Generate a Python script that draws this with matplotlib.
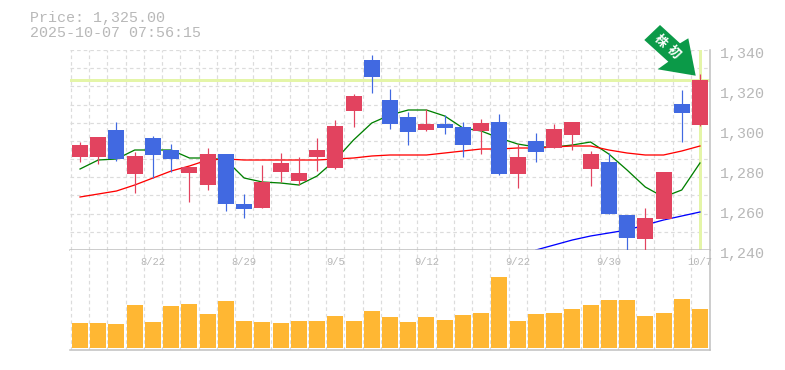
# plot.py
# -*- coding: utf-8 -*-

import matplotlib
matplotlib.use("Agg")
import matplotlib.pyplot as plt
import numpy as np
from matplotlib.patches import Polygon
from matplotlib.transforms import Affine2D, Bbox

# Candles, oldest first.
opens = [1286.5, 1286.5, 1300, 1278, 1296, 1290, 1278.5, 1272.5, 1288, 1263, 1261, 1279,
         1274.5, 1286.5, 1281, 1309.5, 1335, 1315, 1306.5, 1300, 1303, 1301.5, 1299.5, 1304,
         1278, 1294.5, 1291, 1297.5, 1280.5, 1284, 1257.5, 1245.5, 1255.5, 1313, 1302.5]
highs = [1294, 1296.5, 1304, 1289, 1297, 1293, 1281.5, 1291, 1288, 1268, 1282.5, 1288.5,
         1286.5, 1296, 1305, 1318, 1337.5, 1320.5, 1309, 1310.5, 1307.5, 1304, 1305.5, 1308,
         1293, 1298.5, 1303, 1304, 1289.5, 1288.5, 1257.5, 1261, 1279, 1320, 1328]
lows = [1284, 1283, 1284.5, 1268.5, 1276, 1279, 1264, 1270, 1259.5, 1256, 1261, 1274,
        1272.5, 1279.5, 1280.5, 1301.5, 1318.5, 1300.5, 1292.5, 1299.5, 1298, 1286.5, 1288, 1277.5,
        1271, 1284, 1291, 1290, 1272, 1258, 1240, 1240, 1255.5, 1294, 1302]
closes = [1292.5, 1296.5, 1285.5, 1287, 1287.5, 1285.5, 1281.5, 1288, 1263, 1260.5, 1274, 1283.5,
          1278.5, 1290, 1302, 1317, 1326.5, 1303, 1299, 1303, 1301, 1292.5, 1303.5, 1278,
          1286.5, 1289, 1300.5, 1304, 1288, 1258, 1246, 1256, 1279, 1308.5, 1325]

# Moving averages.
ma_short = [1280.5, 1285, 1285.5, 1290, 1290, 1290, 1286, 1286, 1285, 1276, 1274, 1273.5,
            1272.5, 1277, 1285, 1295, 1303.5, 1307.5, 1310, 1310, 1307, 1301, 1299.5, 1296,
            1293, 1291.5, 1291.5, 1292.5, 1294, 1288, 1280, 1271.5, 1266.5, 1270, 1283.5]
ma_mid = [1266.5, 1268, 1269.5, 1272.5, 1276, 1279.5, 1282, 1285, 1285.5, 1285, 1285, 1285,
          1285, 1285, 1285.5, 1286, 1287, 1287.5, 1287.5, 1287.5, 1288.5, 1289.5, 1290.5, 1290.5,
          1291, 1291, 1291.5, 1292, 1292, 1290, 1288.5, 1287.5, 1287.5, 1289.5, 1292]
ma_long = [1240, 1242.5, 1245, 1247, 1248.5, 1250, 1252.5, 1255, 1257, 1259]
ma_long_start = 25

volumes = [25, 25, 24, 43, 26, 42, 44, 34, 47, 27, 26, 25, 27, 27, 32, 27, 37, 31,
           26, 31, 28, 33, 35, 71, 27, 34, 35, 39, 43, 48, 48, 32, 35, 49, 39]

date_positions = [4, 9, 14, 19, 24, 29, 34]
date_labels = ["8/22", "8/29", "9/5", "9/12", "9/22", "9/30", "10/7"]
price_ticks = [1240, 1260, 1280, 1300, 1320, 1340]
last_price = 1325
title_lines = ["Price: 1,325.00", "2025-10-07 07:56:15"]
arrow_label = "株初"

W, H = 785, 370
UP = "#e2435f"
DOWN = "#4169e1"
TEXT = "#b8b8b8"
GRID = "#dcdcdc"
MARK = "#e4f5a8"
PX = 0.72

plt.rcParams["font.family"] = ["Liberation Mono", "DejaVu Sans Mono"]

fig = plt.figure(figsize=(W / 100, H / 100), dpi=100)
ax = fig.add_axes([70 / W, 1 - 250 / H, 640 / W, 200 / H])
vol = fig.add_axes([70 / W, 1 - 350 / H, 640 / W, 100 / H], sharex=ax)

xs = np.arange(len(closes))
bar_w = 16 / 18.24

for a in (ax, vol):
    a.set_xlim(-0.55, 34.55)
    a.set_xticks(xs - 0.5)
    a.tick_params(length=0, labelbottom=False, labelleft=False)
    a.grid(axis="x", color=GRID, lw=PX * 1.2, ls=(0, (3, 2.5)), zorder=0)
    a.set_axisbelow(True)
    a.spines["left"].set_visible(False)
    a.spines["top"].set_visible(False)
    a.spines["right"].set_color("#c0c0c0")
    a.spines["bottom"].set_color("#c0c0c0")
    a.spines["right"].set_linewidth(1.1)
    a.spines["bottom"].set_linewidth(1.1)

# Price panel.
ax.set_ylim(1240, 1340)
ax.set_yticks(np.linspace(1240, 1340, 12))
ax.grid(axis="y", color=GRID, lw=PX * 1.2, ls=(0, (3, 2.5)), zorder=0)

ax.axhline(last_price, color=MARK, lw=3 * PX, zorder=1)
ax.axvline(xs[-1], color=MARK, lw=3 * PX, zorder=1)

ax.plot(xs, ma_short, color="#008000", lw=PX * 1.3, zorder=2)
ax.plot(xs, ma_mid, color="#ff0000", lw=PX * 1.3, zorder=2)
ax.plot(xs[ma_long_start:], ma_long, color="#0000ff", lw=PX * 1.3, zorder=2)

for x, o, h, l, c in zip(xs, opens, highs, lows, closes):
    color = UP if c >= o else DOWN
    ax.vlines(x, l, h, color=color, lw=1.2 * PX, zorder=3)
    ax.bar(x, abs(c - o), bottom=min(o, c), width=bar_w, color=color, zorder=4)

for p in price_ticks:
    ax.annotate(f"{p:,}", xy=(1, p), xycoords=("axes fraction", "data"),
                xytext=(10 * PX, -4 * PX), textcoords="offset points",
                va="center", ha="left", color=TEXT, fontsize=10.8)

# Volume panel.
vol.set_ylim(-2, 98)
vol.set_yticks([])
vol.bar(xs, volumes, width=bar_w, color="#ffb733", zorder=3)

for pos, label in zip(date_positions, date_labels):
    t = vol.annotate(label, xy=(pos, 1), xycoords=("data", "axes fraction"),
                     xytext=(0, -12 * PX), textcoords="offset points",
                     ha="center", va="center", color=TEXT, fontsize=7.6,
                     annotation_clip=False)
    t.set_clip_box(Bbox.from_extents(0, 0, 713, H))
    t.set_clip_on(True)

# Header text.
fig.text(30 / W, 1 - 18 / H, title_lines[0], color=TEXT, fontsize=10.8, va="center")
fig.text(30 / W, 1 - 33 / H, title_lines[1], color=TEXT, fontsize=10.8, va="center")

# Green arrow pointing at the last candle, given in pixels of the figure.
px_to_fig = Affine2D().scale(1 / W, -1 / H).translate(0, 1) + fig.transFigure
arrow_shape = [(660, 25), (644.3, 40), (668.3, 61.7), (657.7, 69.3),
               (695.7, 75.7), (688.3, 38.3), (680, 43.3)]
fig.add_artist(Polygon(arrow_shape, closed=True, facecolor="#0b9a48",
                       edgecolor="none", transform=px_to_fig, zorder=5))
fig.text(660.7 / W, 1 - 41 / H, arrow_label[0], rotation=-45, rotation_mode="anchor",
         ha="center", va="center", color="white", fontsize=9, fontweight="bold",
         family=["Noto Sans CJK JP"], zorder=6)
fig.text(673 / W, 1 - 52 / H, arrow_label[1], rotation=-45, rotation_mode="anchor",
         ha="center", va="center", color="white", fontsize=9, fontweight="bold",
         family=["Noto Sans CJK JP"], zorder=6)

fig.savefig("out.png", dpi=100)
